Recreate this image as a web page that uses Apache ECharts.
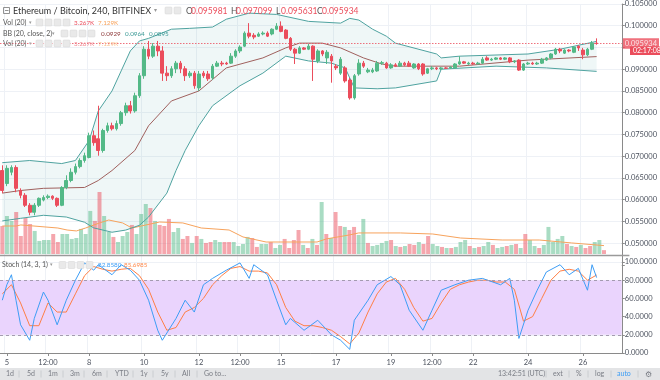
<!DOCTYPE html>
<html><head><meta charset="utf-8">
<script src="https://cdn.jsdelivr.net/npm/echarts@6/dist/echarts.min.js"></script>
<style>html,body{margin:0;padding:0;background:#fff}#c{width:660px;height:380px}</style>
</head><body><div id="c"></div>
<script>
// ---- DATA (240-minute candles, ETH/BTC, Bitfinex) ----
// each candle: [open, close, low, high]
const ohlc = [
[0.0667,0.0621,0.0615,0.0679],[0.0637,0.0672,0.0631,0.0679],[0.0663,0.0674,0.0656,0.0679],[0.0674,0.0626,0.0617,0.0679],
[0.0621,0.0610,0.0603,0.0626],[0.0610,0.0587,0.0583,0.0615],[0.0587,0.0571,0.0564,0.0592],[0.0571,0.0587,0.0564,0.0592],
[0.0587,0.0603,0.0583,0.0605],[0.0599,0.0605,0.0596,0.0610],[0.0605,0.0608,0.0601,0.0612],[0.0608,0.0603,0.0599,0.0610],
[0.0603,0.0587,0.0583,0.0605],[0.0587,0.0628,0.0585,0.0631],[0.0628,0.0644,0.0624,0.0656],[0.0644,0.0663,0.0640,0.0672],
[0.0663,0.0676,0.0658,0.0683],[0.0676,0.0690,0.0672,0.0695],[0.0690,0.0701,0.0685,0.0708],[0.0697,0.0747,0.0695,0.0754],
[0.0747,0.0731,0.0724,0.0759],[0.0740,0.0713,0.0701,0.0816],[0.0713,0.0759,0.0708,0.0763],[0.0759,0.0770,0.0754,0.0777],
[0.0770,0.0763,0.0759,0.0777],[0.0763,0.0775,0.0759,0.0782],[0.0775,0.0800,0.0770,0.0804],[0.0800,0.0816,0.0793,0.0823],
[0.0816,0.0804,0.0798,0.0827],[0.0804,0.0839,0.0800,0.0846],[0.0839,0.0885,0.0834,0.0891],[0.0885,0.0946,0.0878,0.0953],
[0.0946,0.0930,0.0923,0.0965],[0.0930,0.0953,0.0926,0.0960],[0.0953,0.0942,0.0930,0.0965],[0.0942,0.0891,0.0873,0.0953],
[0.0891,0.0885,0.0873,0.0907],[0.0885,0.0901,0.0880,0.0907],[0.0901,0.0914,0.0891,0.0919],[0.0914,0.0901,0.0891,0.0919],
[0.0901,0.0885,0.0873,0.0907],[0.0885,0.0891,0.0880,0.0896],[0.0891,0.0862,0.0855,0.0896],[0.0857,0.0889,0.0850,0.0896],
[0.0891,0.0885,0.0880,0.0896],[0.0889,0.0878,0.0873,0.0896],[0.0880,0.0907,0.0875,0.0912],[0.0907,0.0914,0.0905,0.0919],
[0.0914,0.0912,0.0907,0.0919],[0.0914,0.0912,0.0910,0.0917],[0.0914,0.0930,0.0912,0.0937],[0.0930,0.0942,0.0926,0.0946],
[0.0942,0.0951,0.0937,0.0955],[0.0953,0.0983,0.0951,0.0987],[0.0983,0.0976,0.0971,0.1006],[0.0978,0.0974,0.0969,0.0983],
[0.0976,0.0981,0.0974,0.0985],[0.0981,0.0983,0.0978,0.0987],[0.0983,0.0976,0.0974,0.0987],[0.0981,0.0992,0.0978,0.0994],
[0.0992,0.0999,0.0990,0.1006],[0.0999,0.0987,0.0985,0.1010],[0.0990,0.0971,0.0969,0.0992],[0.0971,0.0946,0.0942,0.0974],
[0.0946,0.0937,0.0912,0.0949],[0.0937,0.0949,0.0935,0.0953],[0.0949,0.0946,0.0944,0.0951],[0.0946,0.0953,0.0944,0.0958],
[0.0953,0.0923,0.0873,0.0955],[0.0919,0.0942,0.0914,0.0946],[0.0942,0.0935,0.0930,0.0944],[0.0926,0.0939,0.0912,0.0944],
[0.0930,0.0919,0.0869,0.0935],[0.0907,0.0903,0.0898,0.0912],[0.0891,0.0923,0.0887,0.0928],[0.0903,0.0873,0.0869,0.0907],
[0.0875,0.0834,0.0830,0.0880],[0.0834,0.0885,0.0830,0.0889],[0.0889,0.0914,0.0885,0.0923],[0.0914,0.0907,0.0903,0.0919],
[0.0894,0.0898,0.0891,0.0903],[0.0894,0.0898,0.0891,0.0903],[0.0896,0.0914,0.0894,0.0919],[0.0914,0.0915,0.0910,0.0919],
[0.0914,0.0903,0.0901,0.0917],[0.0903,0.0910,0.0901,0.0914],[0.0910,0.0907,0.0905,0.0914],[0.0907,0.0914,0.0905,0.0919],
[0.0914,0.0910,0.0907,0.0917],[0.0914,0.0907,0.0905,0.0919],[0.0903,0.0912,0.0901,0.0914],[0.0912,0.0901,0.0898,0.0914],
[0.0912,0.0889,0.0885,0.0914],[0.0891,0.0901,0.0889,0.0903],[0.0901,0.0903,0.0898,0.0907],[0.0903,0.0901,0.0898,0.0905],
[0.0901,0.0903,0.0898,0.0905],[0.0903,0.0902,0.0901,0.0905],[0.0903,0.0905,0.0901,0.0907],[0.0903,0.0912,0.0901,0.0914],
[0.0912,0.0917,0.0910,0.0930],[0.0917,0.0914,0.0912,0.0919],[0.0912,0.0914,0.0910,0.0917],[0.0914,0.0912,0.0910,0.0917],
[0.0912,0.0914,0.0911,0.0917],[0.0914,0.0923,0.0912,0.0928],[0.0926,0.0921,0.0919,0.0930],[0.0921,0.0923,0.0919,0.0926],
[0.0923,0.0926,0.0921,0.0928],[0.0926,0.0923,0.0921,0.0928],[0.0923,0.0926,0.0921,0.0928],[0.0926,0.0917,0.0914,0.0928],
[0.0917,0.0919,0.0914,0.0921],[0.0921,0.0898,0.0896,0.0923],[0.0898,0.0912,0.0896,0.0914],[0.0912,0.0914,0.0910,0.0917],
[0.0914,0.0912,0.0910,0.0917],[0.0912,0.0914,0.0910,0.0917],[0.0914,0.0923,0.0912,0.0926],[0.0921,0.0926,0.0919,0.0928],
[0.0926,0.0935,0.0923,0.0937],[0.0935,0.0946,0.0933,0.0949],[0.0946,0.0942,0.0937,0.0949],[0.0937,0.0944,0.0935,0.0946],
[0.0944,0.0942,0.0939,0.0946],[0.0939,0.0951,0.0937,0.0953],[0.0953,0.0949,0.0942,0.0955],[0.0944,0.0933,0.0923,0.0949],
[0.0933,0.0946,0.0930,0.0949],[0.0946,0.0960,0.0944,0.0965],[0.095981,0.095934,0.095631,0.097099]
];
// volume in thousands (K)
const volume = [23.8,32.3,28.1,35.7,15.3,30.6,25.5,19.6,11.1,11.9,11.9,17,10.2,17,17,12.8,13.6,21.3,17,36.6,
28.1,52.7,32.3,18.7,14.5,10.2,15.3,18.7,24.7,17,34,42.5,39.1,28.1,24.7,23.8,29.8,18.7,22.1,12.8,
15.3,9.4,15.3,12.8,9.4,10.2,11.9,10.2,10.2,10.2,10.2,6.8,8.5,14.5,13.6,6,8.5,8.5,10.2,5.1,
7.7,12.8,5.1,11.9,20.4,7.7,5.1,12.8,7.7,44.2,17,13.6,35.7,23.8,23,20.4,23,16.2,29.8,9.4,
6.8,7.7,9.4,11.1,11.9,6.8,6,6.8,8.5,7.7,10.2,8.5,15.3,8.5,6.8,6,5.1,5.1,6,10.2,
11.9,6.8,5.1,6,6.8,10.2,7.7,5.1,6,6.8,7.7,8.5,5.1,17,11.9,6.8,5.1,7.7,23,10.2,
12.8,15.3,8.5,6.8,6,7.7,5.1,6.8,10.2,11.9,3.267];
// Vol MA(20) readings: [candle index, K]
const volMA = [[0,23.8],[3,23.8],[4,24.7],[12,22.1],[14,20.4],[16,19.6],[18,22.1],[21,26.4],[23,28.9],[26,26.4],[28,22.1],
[30,23.8],[34,27.2],[39,26.4],[43,22.1],[49,20.4],[52,14.5],[57,10.2],[61,10.2],[68,10.2],[70,12.8],[75,16.2],[77,17.9],
[86,17.9],[93,17],[99,13.6],[108,11.9],[116,11.9],[123,9.4],[130,7.129]];
// Bollinger Bands (20, close, 2) readings: [candle index, price]
const bbUpper = [[0,0.0685],[6,0.0690],[13,0.0683],[16,0.0690],[19,0.0736],[21,0.0804],[24,0.0850],[26,0.0896],[28,0.0942],
[30,0.0965],[32,0.0971],[37,0.0992],[41,0.0994],[46,0.0997],[49,0.1015],[54,0.1029],[60,0.1026],[67,0.1010],[74,0.1006],
[76,0.1017],[78,0.1013],[81,0.0992],[84,0.0976],[86,0.0960],[95,0.0935],[96,0.0926],[100,0.0930],[115,0.0935],[122,0.0946],[130,0.0964]];
const bbBasis = [[0,0.0615],[4,0.0621],[9,0.0626],[18,0.0628],[21,0.0644],[24,0.0667],[29,0.0713],[32,0.0770],[37,0.0827],
[43,0.0850],[49,0.0903],[57,0.0926],[62,0.0949],[65,0.0960],[70,0.0960],[74,0.0949],[79,0.0926],[83,0.0912],[86,0.0907],
[100,0.0907],[115,0.0921],[130,0.0929]];
const bbLower = [[0,0.0551],[4,0.0557],[9,0.0564],[14,0.0560],[18,0.0548],[20,0.0535],[24,0.0525],[27,0.0530],[30,0.0541],
[32,0.0560],[36,0.0615],[38,0.0667],[40,0.0713],[43,0.0770],[46,0.0816],[52,0.0862],[57,0.0891],[62,0.0930],[67,0.0919],
[72,0.0914],[75,0.0903],[77,0.0857],[82,0.0855],[86,0.0857],[95,0.0873],[96,0.0900],[108,0.0907],[119,0.0903],[130,0.0895]];
// Stochastic (14, 3, 1) readings: [candle index, value]
const stochK = [[0,58],[1,75],[2,86],[3,58],[4,31],[6,14],[7,38],[9,67],[10,58],[12,31],[14,58],[16,80],[18,99],[20,91],
[21,97],[24,86],[26,97],[28,91],[30,80],[32,58],[34,25],[35,14],[38,38],[40,58],[42,45],[44,75],[46,82],[49,91],[52,99],
[54,82],[55,97],[58,86],[60,58],[62,31],[63,38],[66,25],[69,36],[72,20],[74,14],[76,4],[77,36],[80,58],[82,75],[85,84],
[87,75],[89,47],[92,25],[94,47],[96,69],[99,75],[102,80],[105,82],[109,75],[111,82],[112,58],[113,16],[115,47],[117,69],
[119,89],[122,97],[124,86],[126,93],[128,69],[129,97],[130,82.858]];
const stochD = [[0,65],[2,75],[4,55],[6,30],[8,30],[10,55],[12,45],[14,45],[16,65],[18,85],[20,95],[22,92],[24,90],[26,92],
[28,93],[30,85],[32,70],[34,45],[36,25],[38,28],[40,45],[42,50],[44,60],[46,75],[48,85],[50,93],[52,95],[54,90],[56,90],
[58,88],[60,75],[62,50],[64,35],[66,30],[68,30],[70,28],[72,25],[74,18],[76,10],[78,22],[80,45],[82,65],[84,78],[86,82],
[88,70],[90,50],[92,35],[94,38],[96,55],[98,70],[100,75],[102,78],[104,80],[106,80],[108,78],[110,78],[112,70],[114,35],
[116,40],[118,60],[120,80],[122,90],[124,92],[126,90],[128,80],[130,85.6985]];
// x-axis tick labels: [candle index, label]
const xTicks = [[1,'5'],[10,'12:00'],[19,'8'],[31,'10'],[43,'12'],[52,'12:00'],[61,'15'],[73,'17'],[85,'19'],[94,'12:00'],[103,'22'],[115,'24'],[127,'26']];
const lastClose = 0.095934;

// ---- build ----
const N = 136; // category slots (131 candles + empty right margin)
const categories = [];
for (let i = 0; i < N; i++) { const h = 20 + i * 4; categories.push('d' + (4 + Math.floor(h / 24)) + ' ' + String(h % 24).padStart(2,'0') + ':00'); }
const tickMap = new Map(xTicks);
const tickInt = (idx) => tickMap.has(idx);
const UP = '#53b987', DN = '#eb4d5c';
const volData = volume.map((v, i) => ({ value: v, itemStyle: { color: ohlc[i][1] >= ohlc[i][0] ? 'rgba(83,185,135,0.5)' : 'rgba(235,77,92,0.5)' } }));
const FONT = 'Lato';
const GL = -1.96, GW = 631.4;
const lblColor = '#4c525e';

const chart = echarts.init(document.getElementById('c'), null, { renderer: 'canvas' });
const splitColors = ['rgba(0,0,0,0)'].concat(new Array(12).fill('#eef1f6'));

function txt(x, y, s, fill, size, extra) {
  return Object.assign({ type: 'text', x: x, y: y, style: { text: s, fill: fill, font: (size || 7) + 'px ' + FONT, textVerticalAlign: 'middle' }, z: 100 }, extra || {});
}
function box(x, y) { return { type: 'rect', shape: { x: x, y: y, width: 7, height: 7, r: 1 }, style: { fill: '#e9e9e9', stroke: '#d4d4d4', lineWidth: 0.5 }, z: 100 }; }

const graphics = [
  { type: 'rect', shape: { x: 0, y: 368, width: 660, height: 12 }, style: { fill: '#e3e4e6' }, z: 90 },
  { type: 'line', shape: { x1: 0, y1: 255.5, x2: 629.4, y2: 255.5 }, style: { stroke: '#9a9a9a', lineWidth: 1.5 }, z: 90 },
  { type: 'rect', shape: { x: 3.5, y: 7.5, width: 6, height: 6 }, style: { fill: 'none', stroke: '#777', lineWidth: 0.8 }, z: 100 },
  { type: 'line', shape: { x1: 5, y1: 10.5, x2: 8.5, y2: 10.5 }, style: { stroke: '#777', lineWidth: 0.8 }, z: 100 },
  txt(13, 11, 'Ethereum / Bitcoin, 240, BITFINEX', '#333', 9),
  txt(154, 10, '▾', '#999', 6),
  box(165, 7), box(174, 7),
  txt(186, 11, 'O', '#555', 8.5), txt(191, 11, '0.095981', DN, 8.5),
  txt(231, 11, 'H', '#555', 8.5), txt(236, 11, '0.097099', DN, 8.5),
  txt(276, 11, 'L', '#555', 8.5), txt(281, 11, '0.095631', DN, 8.5),
  txt(317, 11, 'C', '#555', 8.5), txt(322, 11, '0.095934', DN, 8.5),
  txt(3, 22.5, 'Vol (20)', '#555', 7), txt(29, 22, '▾', '#999', 5),
  box(36, 19), box(45, 19), box(54, 19), box(63, 19),
  txt(74, 22.5, '3.267K', DN, 6.3), txt(98, 22.5, '7.129K', '#f7a35c', 6.3),
  txt(3, 33.5, 'BB (20, close, 2)', '#555', 7), txt(52, 33, '▾', '#999', 5),
  box(61, 30), box(70, 30), box(79, 30), box(88, 30),
  txt(101, 33.5, '0.0929', '#8e3b3b', 6.3), txt(125, 33.5, '0.0964', '#3c9a96', 6.3), txt(149, 33.5, '0.0895', '#3c9a96', 6.3),
  txt(3, 43.5, 'Vol (20)', '#666', 7), txt(29, 43, '▾', '#aaa', 5),
  box(36, 40), box(45, 40), box(54, 40), box(63, 40),
  txt(74, 43.5, '3.267K', '#f08a93', 6.3), txt(98, 43.5, '7.129K', '#f9c08d', 6.3),
  txt(2, 265, 'Stoch (14, 3, 1)', '#555', 7), txt(50, 264.5, '▾', '#999', 5),
  box(59, 261.5), box(68, 261.5), box(77, 261.5), box(86, 261.5),
  txt(98, 265, '82.8580', '#3d9df5', 6.3), txt(124, 265, '85.6985', '#ff8a4c', 6.3),
  { type: 'rect', shape: { x: 630, y: 46.5, width: 30, height: 8.5 }, style: { fill: DN }, z: 100 },
  txt(633, 51, '02:17:08', '#fff', 7),
];
const tb = [['1d',6],['5d',27],['1m',48],['3m',70],['6m',92],['YTD',115],['1y',140],['5y',161],['All',182],['Go to...',204]];
tb.forEach(t => graphics.push(txt(t[1], 374, t[0], '#7a7d85', 7)));
[19,41,63,84,107,133,153,175,197,546,569,588,611,638].forEach(x => graphics.push({ type: 'line', shape: { x1: x, y1: 370.5, x2: x, y2: 377.5 }, style: { stroke: '#c4c6ca', lineWidth: 0.8 }, z: 95 }));
graphics.push(txt(498, 374, '13:42:51 (UTC)', '#7a7d85', 7), txt(553, 374, 'ext', '#7a7d85', 7), txt(576, 374, '%', '#7a7d85', 7),
  txt(595, 374, 'log', '#7a7d85', 7), txt(617, 374, 'auto', '#3d9df5', 7), txt(645, 374, '⚙', '#7a7d85', 8));

const option = {
  animation: false,
  backgroundColor: '#fff',
  textStyle: { fontFamily: FONT },
  grid: [
    { left: GL, width: GW, top: 2.65, height: 262.2 },
    { left: GL, width: GW, top: 154, height: 100 },
    { left: GL, width: GW, top: 262, height: 91 }
  ],
  xAxis: [
    { type: 'category', gridIndex: 0, data: categories, boundaryGap: true, axisLine: { show: false }, axisTick: { show: false }, axisLabel: { show: false },
      splitLine: { show: true, interval: tickInt, lineStyle: { color: '#eef1f6', width: 1 } } },
    { type: 'category', gridIndex: 1, data: categories, boundaryGap: true, show: false },
    { type: 'category', gridIndex: 2, data: categories, boundaryGap: true, offset: 2,
      axisLine: { show: true, lineStyle: { color: '#8a8a8a' } },
      axisTick: { show: true, interval: tickInt, length: 3, alignWithLabel: true, lineStyle: { color: '#8a8a8a' } },
      axisLabel: { show: true, interval: tickInt, formatter: (v, i) => tickMap.get(i) || '', fontSize: 7.5, color: lblColor, margin: 4, fontFamily: FONT },
      splitLine: { show: true, interval: tickInt, lineStyle: { color: '#eef1f6', width: 1 } } }
  ],
  yAxis: [
    { type: 'value', gridIndex: 0, position: 'right', min: 0.045, max: 0.105, interval: 0.005, scale: false,
      axisLine: { show: true, lineStyle: { color: '#8a8a8a' } }, axisTick: { show: true, length: 3, lineStyle: { color: '#8a8a8a' } },
      axisLabel: { formatter: v => (v < 0.0474 || Math.abs(v - 0.095) < 1e-6) ? '' : v.toFixed(6), fontSize: 7.5, color: lblColor, margin: 3, fontFamily: FONT },
      splitLine: { show: true, lineStyle: { color: splitColors, width: 1 } } },
    { type: 'value', gridIndex: 1, min: 0, max: 85, show: false, splitLine: { show: false } },
    { type: 'value', gridIndex: 2, position: 'right', min: 0, max: 100, interval: 20,
      axisLine: { show: true, lineStyle: { color: '#8a8a8a' } }, axisTick: { show: true, length: 3, lineStyle: { color: '#8a8a8a' } },
      axisLabel: { formatter: v => v.toFixed(4), fontSize: 7.5, color: lblColor, margin: 3, fontFamily: FONT },
      splitLine: { show: true, lineStyle: { color: '#eef1f6', width: 1 } } }
  ],
  series: [
    { type: 'custom', xAxisIndex: 0, yAxisIndex: 0, silent: true, z: 1, data: [[0, 0.08]],
      renderItem: (params, api) => {
        const pts = bbUpper.map(p => api.coord(p)).concat(bbLower.slice().reverse().map(p => api.coord(p)));
        return { type: 'polygon', shape: { points: pts }, style: { fill: 'rgba(25,135,135,0.07)' } };
      } },
    { type: 'bar', xAxisIndex: 1, yAxisIndex: 1, data: volData, barCategoryGap: '14%', z: 2, silent: true },
    { type: 'line', xAxisIndex: 1, yAxisIndex: 1, data: volMA, showSymbol: false, smooth: false, lineStyle: { color: '#f7a35c', width: 1 }, z: 3, silent: true },
    { type: 'line', xAxisIndex: 0, yAxisIndex: 0, data: bbUpper, showSymbol: false, lineStyle: { color: '#4fa3a0', width: 1 }, z: 4, silent: true },
    { type: 'line', xAxisIndex: 0, yAxisIndex: 0, data: bbLower, showSymbol: false, lineStyle: { color: '#4fa3a0', width: 1 }, z: 4, silent: true },
    { type: 'line', xAxisIndex: 0, yAxisIndex: 0, data: bbBasis, showSymbol: false, lineStyle: { color: '#a0615e', width: 1 }, z: 4, silent: true,
      markLine: { silent: true, symbol: 'none', animation: false, precision: 6,
        lineStyle: { color: DN, type: [1.5, 1.5], width: 1, opacity: 0.8 },
        label: { show: true, position: 'end', formatter: () => lastClose.toFixed(6), backgroundColor: DN, color: '#fff', fontSize: 7.5, padding: [1.5, 2, 1, 2], distance: 1, fontFamily: FONT },
        data: [{ yAxis: lastClose }] } },
    { type: 'candlestick', xAxisIndex: 0, yAxisIndex: 0, data: ohlc, barWidth: '68%', z: 5, silent: true,
      itemStyle: { color: UP, color0: DN, borderColor: UP, borderColor0: DN, borderWidth: 1 } },
    { type: 'line', xAxisIndex: 2, yAxisIndex: 2, data: stochK, showSymbol: false, lineStyle: { color: '#3d9df5', width: 1 }, z: 4, silent: true,
      markArea: { silent: true, itemStyle: { color: '#ead4fd' }, data: [[{ yAxis: 20 }, { yAxis: 80 }]] },
      markLine: { silent: true, symbol: 'none', label: { show: false }, lineStyle: { color: '#a49bb0', type: [3, 3], width: 1 }, data: [{ yAxis: 80 }, { yAxis: 20 }] } },
    { type: 'line', xAxisIndex: 2, yAxisIndex: 2, data: stochD, showSymbol: false, lineStyle: { color: '#ff7f45', width: 1 }, z: 3, silent: true }
  ],
  graphic: graphics
};
chart.setOption(option);
</script></body></html>
